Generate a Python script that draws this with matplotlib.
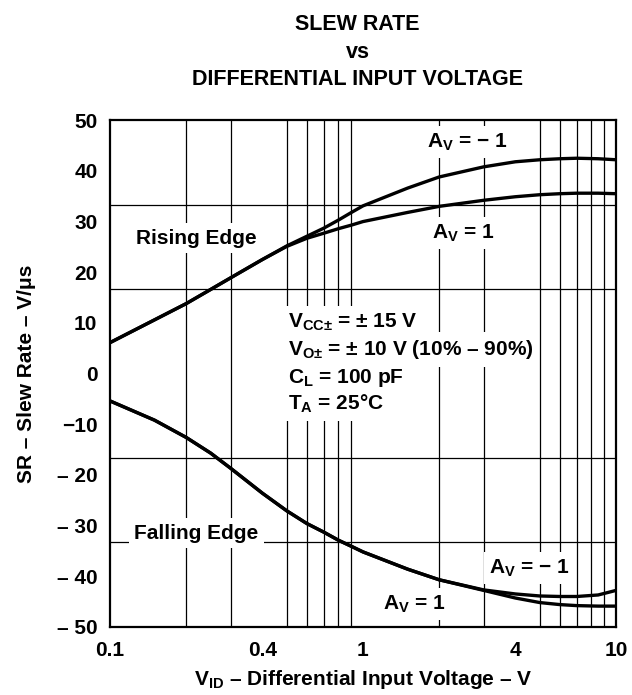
import matplotlib
matplotlib.use("Agg")
import matplotlib.pyplot as plt
from matplotlib.ticker import FixedLocator, NullFormatter

plt.rcParams['font.family'] = ['Liberation Sans', 'DejaVu Sans']
plt.rcParams['font.weight'] = 'bold'
plt.rcParams['axes.labelweight'] = 'bold'
plt.rcParams['mathtext.fontset'] = 'custom'
plt.rcParams['mathtext.rm'] = 'Liberation Sans:bold'
plt.rcParams['mathtext.bf'] = 'Liberation Sans:bold'
plt.rcParams['mathtext.it'] = 'Liberation Sans:bold'
plt.rcParams['mathtext.default'] = 'bf'

# differential input voltage (V)
vid = [0.1, 0.15, 0.2, 0.25, 0.3, 0.4, 0.5, 0.6, 0.7, 0.8, 0.9, 1,
       1.5, 2, 3, 4, 5, 6, 7, 8.5, 10]

# slew rate, V/us  (rising edge)
rise_inv = [6.1, 10.6, 13.8, 16.6, 18.9, 22.5, 25.2, 27.1, 28.7, 30.3, 31.8, 33.1,
            36.6, 38.8, 40.8, 41.8, 42.2, 42.4, 42.5, 42.4, 42.2]
rise_non = [6.1, 10.6, 13.8, 16.6, 18.9, 22.5, 25.1, 26.7, 27.7, 28.6, 29.3, 30.0,
            31.8, 33.0, 34.2, 34.9, 35.3, 35.5, 35.6, 35.6, 35.5]
# falling edge
fall_inv = [-5.4, -9.2, -12.6, -15.7, -18.7, -23.6, -27.1, -29.6, -31.3, -32.9, -34.1, -35.2,
            -38.6, -40.7, -42.7, -43.5, -43.9, -44.0, -44.0, -43.7, -42.8]
fall_non = [-5.4, -9.2, -12.6, -15.7, -18.7, -23.6, -27.1, -29.6, -31.3, -32.9, -34.1, -35.2,
            -38.6, -40.7, -42.8, -44.3, -45.2, -45.6, -45.8, -45.9, -45.9]

x_ticks = [0.1, 0.4, 1, 4, 10]
x_ticklabels = ['0.1', '0.4', '1', '4', '10']
y_ticks = [50, 40, 30, 20, 10, 0, -10, -20, -30, -40, -50]
y_ticklabels = ['50', '40', '30', '20', '10', '0', '\u221210',
                '\u2013 20', '\u2013 30', '\u2013 40', '\u2013 50']

fig = plt.figure(figsize=(6.32, 6.95), dpi=100)
ax = fig.add_axes([0.174, 0.098, 0.8007, 0.729])

for y in (rise_inv, rise_non, fall_inv, fall_non):
    ax.plot(vid, y, color='black', lw=2.4, zorder=3)

ax.set_xscale('log')
ax.set_xlim(0.1, 10)
ax.set_ylim(-50, 50)

# grid: every 1..9 line per decade, six equal bands vertically
minor_x = [m * d for d in (0.1, 1) for m in range(2, 10)] + [1]
ax.xaxis.set_minor_locator(FixedLocator(minor_x))
ax.xaxis.set_minor_formatter(NullFormatter())
ax.set_xticks(x_ticks)
ax.set_xticklabels(x_ticklabels)
ax.set_yticks(y_ticks)
ax.set_yticklabels(y_ticklabels)
ax.yaxis.set_minor_locator(FixedLocator([-100/3, -50/3, 0, 50/3, 100/3]))
ax.tick_params(which='both', length=0)
ax.tick_params(axis='x', pad=10, labelsize=15)
ax.tick_params(axis='y', pad=9, labelsize=15)
ax.grid(which='minor', color='black', lw=0.9)
ax.grid(which='major', visible=False)
for s in ax.spines.values():
    s.set_linewidth(1.6)
    s.set_zorder(4)

ax.set_xlabel('V$_{ID}$ \u2013 Differential Input Voltage \u2013 V', fontsize=15, labelpad=6)
ax.set_ylabel('SR \u2013 Slew Rate \u2013 V/\u03bcs', fontsize=15, labelpad=15)

title_lines = ['SLEW RATE', 'vs', 'DIFFERENTIAL INPUT VOLTAGE']
for i, t in enumerate(title_lines):
    fig.text(0.566, 0.9568 - i * 0.0396, t, ha='center', va='baseline', fontsize=15.5)

box = dict(facecolor='white', edgecolor='none', pad=4)
txt = dict(fontsize=15, zorder=2, bbox=box)
ax.text(0.22, 26.7, 'Rising Edge', ha='center', va='center', **txt)
ax.text(0.22, -31.5, 'Falling Edge', ha='center', va='center', **txt)
ax.text(2.58, 45.7, 'A$_V$ = \u2212 1', ha='center', va='center', **txt)
ax.text(2.5, 27.7, 'A$_V$ = 1', ha='center', va='center', **txt)
ax.text(4.55, -38.4, 'A$_V$ = \u2212 1', ha='center', va='center', **txt)
ax.text(1.59, -45.5, 'A$_V$ = 1', ha='center', va='center', **txt)

conds = ['V$_{CC\u00b1}$ = \u00b1 15 V',
         'V$_{O\u00b1}$ = \u00b1 10 V (10% \u2013 90%)',
         'C$_L$ = 100 pF',
         'T$_A$ = 25\u00b0C']
for i, c in enumerate(conds):
    ax.text(0.505, 9.1 - i * 5.44, c, ha='left', va='baseline', **txt)

fig.savefig('out.png', dpi=100)
